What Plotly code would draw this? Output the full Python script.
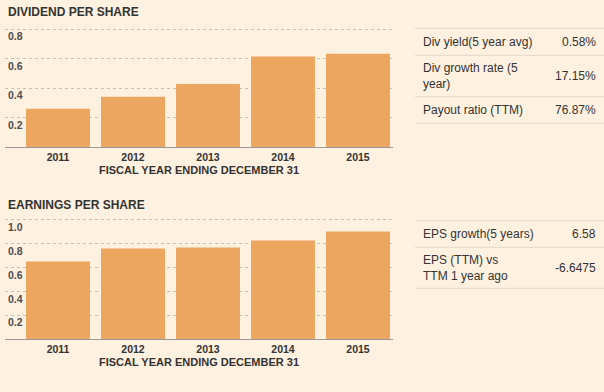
import plotly.graph_objects as go

# ---- data ----
years = ["2011", "2012", "2013", "2014", "2015"]
dividend = [0.26, 0.34, 0.427, 0.613, 0.633]
eps = [0.652, 0.761, 0.77, 0.828, 0.9025]

div_ticks = [0.2, 0.4, 0.6, 0.8]
eps_ticks = [0.2, 0.4, 0.6, 0.8, 1.0]

div_title = "DIVIDEND PER SHARE"
eps_title = "EARNINGS PER SHARE"
x_title = "FISCAL YEAR ENDING DECEMBER 31"

div_labels = ["Div yield(5 year avg)", "Div growth rate (5<br>year)", "Payout ratio (TTM)"]
div_values = ["0.58%", "17.15%", "76.87%"]
eps_labels = ["EPS growth(5 years)", "EPS (TTM) vs<br>TTM 1 year ago"]
eps_values = ["6.58", "-6.6475"]

# ---- style ----
W, H = 604, 392
BG = "#FFF1E0"
BAR = "#EDA660"
FONT = "Arial, Liberation Sans, sans-serif"
TXT = "#333333"
TICK = "#4d4d4d"

def py(y):
    return 1 - y / H

def px(x):
    return x / W

fig = go.Figure()
fig.add_trace(go.Bar(x=years, y=dividend, marker=dict(color=BAR, line=dict(width=0)),
                     xaxis="x", yaxis="y", showlegend=False, hoverinfo="x+y"))
fig.add_trace(go.Bar(x=years, y=eps, marker=dict(color=BAR, line=dict(width=0)),
                     xaxis="x2", yaxis="y2", showlegend=False, hoverinfo="x+y"))

xdom = [px(5), px(393)]
xrange_ = [-0.707, 4.467]

def xaxis(anchor):
    return dict(domain=xdom, range=xrange_, type="category", anchor=anchor,
                showgrid=False, showline=True, linecolor="#9a9a9a", linewidth=1,
                ticks="", tickfont=dict(family=FONT, size=10.5, color=TXT, weight="bold"),
                title=dict(text=x_title, font=dict(family=FONT, size=11, color=TXT, weight="bold"),
                           standoff=4),
                fixedrange=True)

def yaxis(anchor, dom, rng, ticks):
    return dict(domain=dom, range=rng, anchor=anchor, tickvals=ticks,
                ticktext=[f"{t:.1f}" for t in ticks],
                showgrid=True, gridcolor="#c9c0b5", griddash="dot", gridwidth=1,
                zeroline=False, showline=False, ticks="",
                ticklabelposition="inside bottom",
                tickfont=dict(family=FONT, size=10.5, color=TICK, weight="bold"),
                fixedrange=True)

fig.update_layout(
    width=W, height=H,
    margin=dict(l=0, r=0, t=0, b=0),
    paper_bgcolor=BG, plot_bgcolor=BG,
    bargap=0.147,
    xaxis=xaxis("y"),
    yaxis=yaxis("x", [py(147), py(23.1)], [0, 0.84], div_ticks),
    xaxis2=xaxis("y2"),
    yaxis2=yaxis("x2", [py(339.3), py(215.2)], [0, 1.04], eps_ticks),
)

anns = []
# section titles
anns.append(dict(text=div_title, x=px(6), y=py(12), xref="paper", yref="paper",
                 xanchor="left", yanchor="middle", showarrow=False,
                 font=dict(family=FONT, size=12, color=TXT, weight="bold")))
anns.append(dict(text=eps_title, x=px(6), y=py(205), xref="paper", yref="paper",
                 xanchor="left", yanchor="middle", showarrow=False,
                 font=dict(family=FONT, size=12, color=TXT, weight="bold")))

shapes = []
LINE = "#e3d7c8"

def table(labels, values, bounds):
    for i, (lab, val) in enumerate(zip(labels, values)):
        yc = (bounds[i] + bounds[i + 1]) / 2
        anns.append(dict(text=lab, x=px(421), y=py(yc), xref="paper", yref="paper",
                         xanchor="left", yanchor="middle", align="left", showarrow=False,
                         font=dict(family=FONT, size=12, color=TXT)))
        anns.append(dict(text=val, x=px(598), y=py(yc), xref="paper", yref="paper",
                         xanchor="right", yanchor="middle", align="right", showarrow=False,
                         font=dict(family=FONT, size=12, color=TXT)))
    for b in bounds:
        shapes.append(dict(type="line", xref="paper", yref="paper",
                           x0=px(415), x1=1, y0=py(b), y1=py(b),
                           line=dict(color=LINE, width=1)))

table(div_labels, div_values, [28.3, 55.3, 96.7, 123.3])
table(eps_labels, eps_values, [220.7, 247.3, 288.3])

fig.update_layout(annotations=anns, shapes=shapes)

fig.write_html("out.html", config={"displayModeBar": False},
               post_script="document.body.style.margin='0';document.body.style.overflow='hidden';")
